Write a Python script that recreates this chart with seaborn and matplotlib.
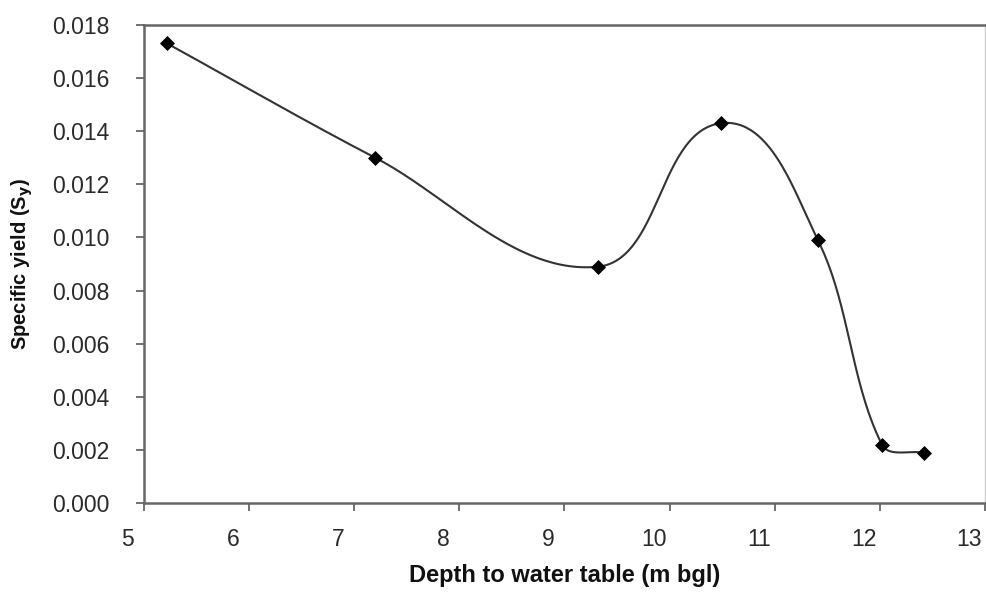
import numpy as np
import matplotlib
matplotlib.use("Agg")
import matplotlib.pyplot as plt
import matplotlib.transforms as mtransforms
import seaborn as sns
import pandas as pd

depth = [5.22, 7.20, 9.32, 10.49, 11.41, 12.02, 12.42]
sy = [0.0173, 0.0130, 0.0089, 0.0143, 0.0099, 0.0022, 0.0019]
x_ticks = [5, 6, 7, 8, 9, 10, 11, 12, 13]
y_ticks = [0.000, 0.002, 0.004, 0.006, 0.008, 0.010, 0.012, 0.014, 0.016, 0.018]

sns.set_theme(style="white")
plt.rcParams['font.family'] = ['Liberation Sans', 'DejaVu Sans']

fig = plt.figure(figsize=(9.86, 5.92), dpi=100)
ax = fig.add_axes([0.146, 0.150, 0.853, 0.808])
ax.set_xlim(5, 13)
ax.set_ylim(0, 0.018)

# Smoothed line (cubic Bezier through the points, computed in display space)
P = ax.transData.transform(np.column_stack([depth, sy]))
n = len(P)
tang = []
for i in range(n):
    a = P[max(i - 1, 0)]
    b = P[min(i + 1, n - 1)]
    d = b - a
    tang.append(d / np.linalg.norm(d))
tang = np.array(tang)
t = np.linspace(0, 1, 60)[:, None]
curve = []
for i in range(n - 1):
    p0, p3 = P[i], P[i + 1]
    L = np.linalg.norm(p3 - p0)
    c1 = p0 + tang[i] * L / 3.0
    c2 = p3 - tang[i + 1] * L / 3.0
    seg = ((1 - t) ** 3) * p0 + 3 * ((1 - t) ** 2) * t * c1 + 3 * (1 - t) * t ** 2 * c2 + t ** 3 * p3
    curve.append(seg)
curve = ax.transData.inverted().transform(np.vstack(curve))
ax.plot(curve[:, 0], curve[:, 1], color="#333333", lw=1.5, zorder=2)

df = pd.DataFrame({"depth": depth, "sy": sy})
sns.scatterplot(data=df, x="depth", y="sy", marker="D", s=50, color="black",
                edgecolor="black", ax=ax, zorder=3)

ax.set_xlim(5, 13)
ax.set_ylim(0, 0.018)
ax.set_xticks(x_ticks)
ax.set_yticks(y_ticks)
ax.set_yticklabels([f"{v:.3f}" for v in y_ticks])

for side in ["left", "bottom", "top"]:
    ax.spines[side].set_color("#666666")
    ax.spines[side].set_linewidth(1.8)
ax.spines["right"].set_color("#cccccc")
ax.spines["right"].set_linewidth(1.0)

ax.tick_params(axis="both", which="both", direction="out", length=6, width=1.3,
               color="#666666", labelsize=16.5, labelcolor="#2a2a2a")
ax.tick_params(axis="y", pad=19, left=True)
ax.tick_params(axis="x", pad=12, bottom=True)

offset = mtransforms.ScaledTranslation(-16 / 100, 0, fig.dpi_scale_trans)
for lbl in ax.get_xticklabels():
    lbl.set_transform(lbl.get_transform() + offset)

ax.set_xlabel("Depth to water table (m bgl)", fontsize=17, fontweight="bold",
              color="#111111", labelpad=9)
ax.set_ylabel("Specific yield (S$_\\mathbf{y}$)", fontsize=14.5, fontweight="bold",
              color="#111111", labelpad=12)

fig.savefig("out.png", dpi=100, facecolor="white")
